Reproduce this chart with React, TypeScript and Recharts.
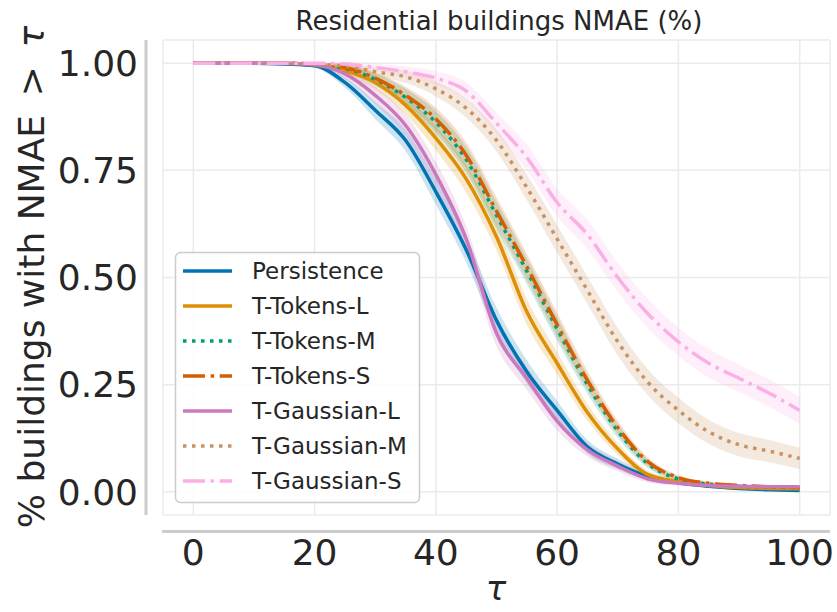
import React from 'react';
import {
  ComposedChart,
  Line,
  Area,
  XAxis,
  YAxis,
  CartesianGrid
} from 'recharts';

// Threshold tau (%) sampled every 5
const taus = [0, 5, 10, 15, 20, 25, 30, 35, 40, 45, 50, 55, 60, 65, 70, 75, 80, 85, 90, 95, 100];

// Share of buildings with NMAE > tau, per model
const persistence = [1, 1, 1, 0.998, 0.994, 0.955, 0.89, 0.82, 0.7, 0.565, 0.4, 0.28, 0.19, 0.105, 0.065, 0.036, 0.021, 0.013, 0.008, 0.005, 0.003];
const tokensL = [1, 1, 1, 1, 0.996, 0.982, 0.955, 0.902, 0.825, 0.73, 0.595, 0.42, 0.3, 0.185, 0.1, 0.04, 0.024, 0.015, 0.01, 0.008, 0.007];
const tokensM = [1, 1, 1, 1, 0.997, 0.988, 0.962, 0.92, 0.862, 0.775, 0.645, 0.515, 0.38, 0.25, 0.142, 0.065, 0.03, 0.018, 0.013, 0.011, 0.01];
const tokensS = [1, 1, 1, 1, 0.997, 0.99, 0.965, 0.925, 0.87, 0.785, 0.655, 0.525, 0.39, 0.26, 0.15, 0.07, 0.033, 0.02, 0.015, 0.012, 0.01];
const gaussianL = [1, 1, 1, 1, 0.996, 0.975, 0.925, 0.855, 0.74, 0.59, 0.37, 0.265, 0.165, 0.098, 0.06, 0.03, 0.02, 0.015, 0.013, 0.012, 0.012];
const gaussianM = [1, 1, 1, 1, 0.998, 0.993, 0.98, 0.968, 0.94, 0.895, 0.82, 0.71, 0.59, 0.47, 0.35, 0.255, 0.19, 0.14, 0.11, 0.095, 0.078];
const gaussianS = [1, 1, 1, 1, 1, 0.998, 0.99, 0.98, 0.965, 0.935, 0.86, 0.78, 0.675, 0.6, 0.5, 0.415, 0.35, 0.3, 0.265, 0.23, 0.19];

// half width of the confidence band
const persistenceCi = [0, 0, 0, 0.002, 0.005, 0.012, 0.02, 0.025, 0.03, 0.03, 0.03, 0.027, 0.022, 0.016, 0.012, 0.008, 0.005, 0.004, 0.003, 0.003, 0.003];
const tokensLCi = [0, 0, 0, 0.002, 0.004, 0.01, 0.016, 0.022, 0.028, 0.032, 0.032, 0.03, 0.026, 0.02, 0.014, 0.009, 0.006, 0.004, 0.003, 0.003, 0.003];
const tokensMCi = [0, 0, 0, 0.002, 0.004, 0.008, 0.014, 0.02, 0.026, 0.03, 0.032, 0.03, 0.028, 0.022, 0.016, 0.01, 0.006, 0.004, 0.003, 0.003, 0.003];
const tokensSCi = [0, 0, 0, 0.002, 0.004, 0.008, 0.014, 0.02, 0.026, 0.03, 0.032, 0.03, 0.028, 0.022, 0.016, 0.01, 0.006, 0.004, 0.003, 0.003, 0.003];
const gaussianLCi = [0, 0, 0, 0.002, 0.005, 0.012, 0.02, 0.025, 0.03, 0.03, 0.03, 0.027, 0.022, 0.016, 0.012, 0.008, 0.005, 0.004, 0.003, 0.003, 0.003];
const gaussianMCi = [0, 0, 0, 0.001, 0.003, 0.006, 0.01, 0.014, 0.018, 0.022, 0.026, 0.03, 0.032, 0.032, 0.032, 0.03, 0.03, 0.028, 0.027, 0.026, 0.025];
const gaussianSCi = [0, 0, 0, 0, 0.002, 0.004, 0.008, 0.012, 0.016, 0.02, 0.025, 0.03, 0.032, 0.034, 0.034, 0.034, 0.033, 0.033, 0.032, 0.032, 0.032];

const xTicks = [0, 20, 40, 60, 80, 100];
const yTicks = [0, 0.25, 0.5, 0.75, 1];

const SOLID = undefined;
const DOTTED = '3.5 5.5';
const DASHDOT = '22 5.6 3.5 5.6';

const series = [
  { key: 'persistence', name: 'Persistence', values: persistence, ci: persistenceCi, color: '#0173b2', dash: SOLID },
  { key: 'tokensL', name: 'T-Tokens-L', values: tokensL, ci: tokensLCi, color: '#de8f05', dash: SOLID },
  { key: 'tokensM', name: 'T-Tokens-M', values: tokensM, ci: tokensMCi, color: '#029e73', dash: DOTTED },
  { key: 'tokensS', name: 'T-Tokens-S', values: tokensS, ci: tokensSCi, color: '#d55e00', dash: DASHDOT },
  { key: 'gaussianL', name: 'T-Gaussian-L', values: gaussianL, ci: gaussianLCi, color: '#cc78bc', dash: SOLID },
  { key: 'gaussianM', name: 'T-Gaussian-M', values: gaussianM, ci: gaussianMCi, color: '#ca9161', dash: DOTTED },
  { key: 'gaussianS', name: 'T-Gaussian-S', values: gaussianS, ci: gaussianSCi, color: '#fbafe4', dash: DASHDOT }
];

const chartData = taus.map((tau, i) => {
  const row: any = { tau };
  series.forEach(s => {
    row[s.key] = s.values[i];
    row[s.key + 'Band'] = [s.values[i] - s.ci[i], s.values[i] + s.ci[i]];
  });
  return row;
});

const FONT = '"DejaVu Sans", sans-serif';
const TEXT = '#262626';
const SPINE = '#cccccc';

export default function App() {
  return (
    <div style={{ position: 'relative', width: 837, height: 612, background: '#fff' }}>
      <style>{'body{margin:0}'}</style>
      <ComposedChart
        width={837}
        height={612}
        data={chartData}
        margin={{ top: 40, right: 7, left: 0, bottom: 0 }}
      >
        <CartesianGrid stroke="#ebebeb" strokeWidth={1.5} />
        <XAxis
          dataKey="tau"
          type="number"
          domain={[-5, 105]}
          ticks={xTicks}
          allowDataOverflow
          axisLine={false}
          tickLine={false}
          tickSize={0}
          tickMargin={24}
          height={97}
          tick={{ fontSize: 36, fill: TEXT, fontFamily: FONT }}
        />
        <YAxis
          type="number"
          domain={[-0.054, 1.054]}
          ticks={yTicks}
          allowDataOverflow
          axisLine={false}
          tickLine={false}
          tickSize={0}
          tickMargin={25}
          width={163}
          tickFormatter={(v: number) => v.toFixed(2)}
          tick={{ fontSize: 36, fill: TEXT, fontFamily: FONT }}
        />
        {series.map(s => (
          <Area
            key={s.key + 'Band'}
            dataKey={s.key + 'Band'}
            type="monotone"
            stroke="none"
            fill={s.color}
            fillOpacity={0.2}
            isAnimationActive={false}
            activeDot={false}
            legendType="none"
          />
        ))}
        {series.map(s => (
          <Line
            key={s.key}
            dataKey={s.key}
            name={s.name}
            type="monotone"
            stroke={s.color}
            strokeWidth={3.5}
            strokeDasharray={s.dash}
            dot={false}
            activeDot={false}
            isAnimationActive={false}
          />
        ))}
      </ComposedChart>

      <svg
        width={837}
        height={612}
        style={{ position: 'absolute', left: 0, top: 0, pointerEvents: 'none' }}
        fontFamily={FONT}
      >
        {/* offset spines */}
        <line x1={146} y1={40} x2={146} y2={515} stroke={SPINE} strokeWidth={3} />
        <line x1={162} y1={531.5} x2={830} y2={531.5} stroke={SPINE} strokeWidth={3} />

        <text x={499} y={30} textAnchor="middle" fontSize={26} fill={TEXT}>
          Residential buildings NMAE (%)
        </text>
        <text
          transform="rotate(-90)"
          x={-277}
          y={31}
          textAnchor="middle"
          dominantBaseline="central"
          fontSize={36}
          fill={TEXT}
        >
          % buildings with NMAE {'\u2009'}&gt;{'\u2009'} <tspan fontStyle="italic">τ</tspan>
        </text>
        <text x={496} y={588} textAnchor="middle" dominantBaseline="central" fontSize={34} fontStyle="italic" fill={TEXT}>
          τ
        </text>

        {/* legend */}
        <rect x={175.5} y={252.5} width={244} height={250} rx={5} fill="#ffffff" fillOpacity={0.85} stroke={SPINE} strokeWidth={1.5} />
        {series.map((s, i) => {
          const cy = 271 + i * 35;
          return (
            <g key={s.key + 'Legend'}>
              <line x1={183} y1={cy} x2={232} y2={cy} stroke={s.color} strokeWidth={3.5} strokeDasharray={s.dash} />
              <text x={252} y={cy} dominantBaseline="central" fontSize={23} fill={TEXT}>
                {s.name}
              </text>
            </g>
          );
        })}
      </svg>
    </div>
  );
}
